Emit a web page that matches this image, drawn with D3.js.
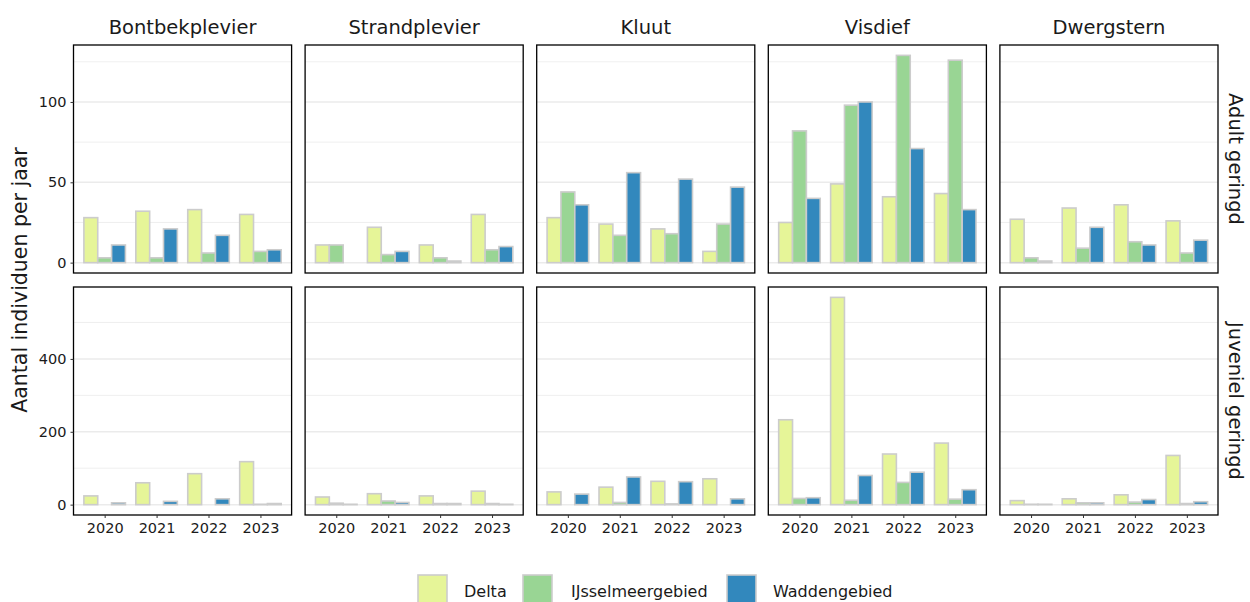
<!DOCTYPE html>
<html>
<head>
<meta charset="utf-8">
<script src="https://cdn.jsdelivr.net/npm/d3@7"></script>
<style>
  html, body { margin: 0; padding: 0; background: #fff; }
  svg { display: block; }
  text { font-family: "DejaVu Sans", Verdana, sans-serif; fill: #1a1a1a; }
</style>
</head>
<body>
<svg id="chart" width="1250" height="602"></svg>
<script>
// Species (columns), ring classes (rows), years and regions
const species = ["Bontbekplevier", "Strandplevier", "Kluut", "Visdief", "Dwergstern"];
const stages = ["Adult geringd", "Juveniel geringd"];
const years = ["2020", "2021", "2022", "2023"];
const regions = ["Delta", "IJsselmeergebied", "Waddengebied"];
const regionColors = ["#e6f598", "#99d594", "#3288bd"];

// Counts per species, one row per year: [Delta, IJsselmeergebied, Waddengebied]
const adultBontbekplevier = [[28, 3, 11], [32, 3, 21], [33, 6, 17], [30, 7, 8]];
const adultStrandplevier  = [[11, 11, 0], [22, 5, 7], [11, 3, 1], [30, 8, 10]];
const adultKluut          = [[28, 44, 36], [24, 17, 56], [21, 18, 52], [7, 24, 47]];
const adultVisdief        = [[25, 82, 40], [49, 98, 100], [41, 129, 71], [43, 126, 33]];
const adultDwergstern     = [[27, 3, 1], [34, 9, 22], [36, 13, 11], [26, 6, 14]];

const juvBontbekplevier = [[24, 0, 5], [60, 0, 9], [85, 0, 16], [118, 1, 3]];
const juvStrandplevier  = [[21, 4, 1], [30, 10, 6], [24, 3, 3], [37, 3, 1]];
const juvKluut          = [[35, 0, 29], [48, 6, 76], [64, 2, 63], [71, 0, 16]];
const juvVisdief        = [[233, 17, 19], [569, 12, 80], [139, 61, 89], [169, 15, 41]];
const juvDwergstern     = [[11, 1, 1], [16, 5, 5], [27, 7, 14], [135, 3, 8]];

const counts = [
  [adultBontbekplevier, adultStrandplevier, adultKluut, adultVisdief, adultDwergstern],
  [juvBontbekplevier, juvStrandplevier, juvKluut, juvVisdief, juvDwergstern]
];

const yTicksMajor = [[0, 50, 100], [0, 200, 400]];
const yTicksMinor = [[25, 75, 125], [100, 300, 500]];

// Layout
const plotLeft = 73.5, plotRight = 1218;
const colGap = 13.5;
const panelW = (plotRight - plotLeft - colGap * (species.length - 1)) / species.length;
const rowTops = [45, 287];
const panelH = 228;

const svg = d3.select("#chart");

const x = d3.scalePoint().domain(years).range([0, panelW]).padding(0.6);
const step = x.step();
const xInner = d3.scaleBand().domain(regions).range([-0.4 * step, 0.4 * step]).padding(0);

stages.forEach((stage, r) => {
  const maxVal = d3.max(counts[r].flat(2));
  const y = d3.scaleLinear()
    .domain([-0.05 * maxVal, 1.05 * maxVal])
    .range([panelH, 0]);

  species.forEach((sp, c) => {
    const px = plotLeft + c * (panelW + colGap);
    const g = svg.append("g").attr("transform", `translate(${px},${rowTops[r]})`);

    // grid
    g.selectAll("line.minor").data(yTicksMinor[r]).join("line")
      .attr("x1", 0).attr("x2", panelW)
      .attr("y1", d => y(d)).attr("y2", d => y(d))
      .attr("stroke", "#ebebeb").attr("stroke-width", 0.8);
    g.selectAll("line.major").data(yTicksMajor[r]).join("line")
      .attr("x1", 0).attr("x2", panelW)
      .attr("y1", d => y(d)).attr("y2", d => y(d))
      .attr("stroke", "#ebebeb").attr("stroke-width", 1.5);

    // bars
    const rows = [];
    counts[r][c].forEach((vals, yi) => {
      vals.forEach((v, ri) => rows.push({ year: years[yi], region: regions[ri], ri, v }));
    });
    g.selectAll("rect.bar").data(rows).join("rect")
      .attr("class", "bar")
      .attr("x", d => x(d.year) + xInner(d.region))
      .attr("width", xInner.bandwidth())
      .attr("y", d => y(d.v))
      .attr("height", d => y(0) - y(d.v))
      .attr("fill", d => regionColors[d.ri])
      .attr("stroke", "#cccccc")
      .attr("stroke-width", 1.6);

    // panel border
    g.append("rect")
      .attr("x", 0).attr("y", 0).attr("width", panelW).attr("height", panelH)
      .attr("fill", "none").attr("stroke", "#000").attr("stroke-width", 1.3);

    // y axis on first column
    if (c === 0) {
      const ya = d3.axisLeft(y).tickValues(yTicksMajor[r]).tickSize(3).tickPadding(4);
      const ag = g.append("g").call(ya);
      ag.select(".domain").remove();
      ag.selectAll(".tick line").attr("stroke", "#333");
      ag.selectAll(".tick text").style("font-size", "14.5px").attr("fill", "#1a1a1a")
        .style("font-family", "'DejaVu Sans', sans-serif");
    }

    // x axis on bottom row
    if (r === stages.length - 1) {
      const xa = d3.axisBottom(x).tickSize(3).tickPadding(5);
      const ag = g.append("g").attr("transform", `translate(0,${panelH})`).call(xa);
      ag.select(".domain").remove();
      ag.selectAll(".tick line").attr("stroke", "#333");
      ag.selectAll(".tick text").style("font-size", "14.5px").attr("fill", "#1a1a1a")
        .style("font-family", "'DejaVu Sans', sans-serif");
    }

    // column strip
    if (r === 0) {
      svg.append("text")
        .attr("x", px + panelW / 2).attr("y", 34)
        .attr("text-anchor", "middle")
        .style("font-size", "19.5px")
        .text(sp);
    }
  });

  // row strip
  const cy = rowTops[r] + panelH / 2;
  svg.append("text")
    .attr("transform", `translate(1229,${cy}) rotate(90)`)
    .attr("text-anchor", "middle")
    .style("font-size", "19.5px")
    .text(stage);
});

// y axis title
svg.append("text")
  .attr("transform", `translate(27,${(rowTops[0] + rowTops[1] + panelH) / 2}) rotate(-90)`)
  .attr("text-anchor", "middle")
  .style("font-size", "20.5px")
  .text("Aantal individuen per jaar");

// legend
const legendItems = [
  { label: regions[0], kx: 418, tx: 464 },
  { label: regions[1], kx: 523, tx: 571 },
  { label: regions[2], kx: 727, tx: 773 }
];
const lg = svg.append("g");
legendItems.forEach((d, i) => {
  lg.append("rect")
    .attr("x", d.kx).attr("y", 575).attr("width", 29).attr("height", 30)
    .attr("fill", regionColors[i]).attr("stroke", "#cccccc").attr("stroke-width", 1.6);
  lg.append("text")
    .attr("x", d.tx).attr("y", 597)
    .style("font-size", "16px")
    .text(d.label);
});
</script>
</body>
</html>
